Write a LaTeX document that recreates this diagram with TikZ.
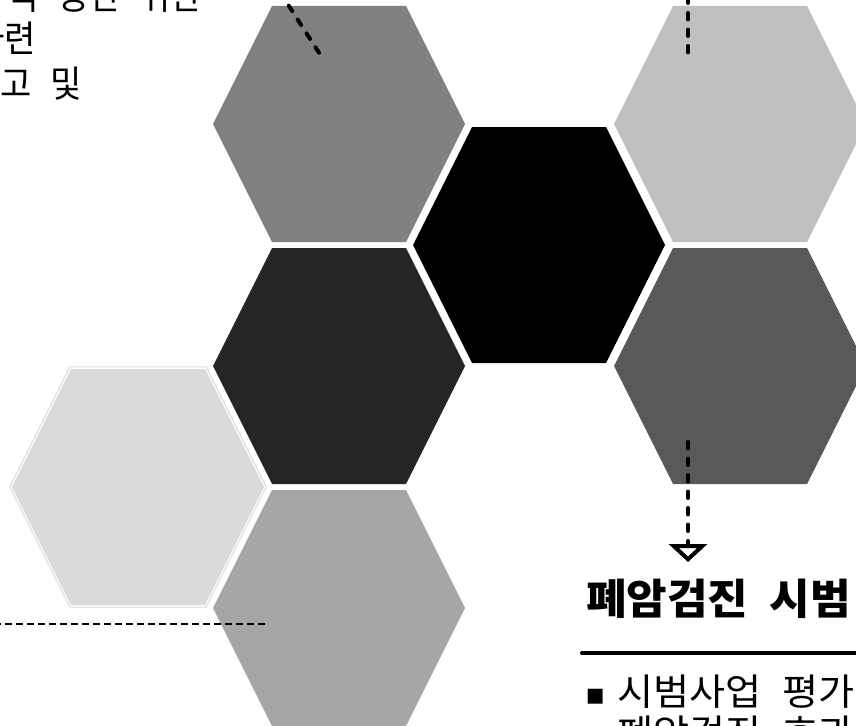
\documentclass[tikz,border=0pt]{standalone}
\usepackage{fontspec}
\newfontfamily\krtop[FakeStretch=0.92,WordSpace=2.4]{Noto Sans CJK KR}
\newfontfamily\krhead[FakeStretch=1.05,WordSpace=2.1]{Noto Sans CJK KR}
\newfontfamily\krbody[FakeStretch=1.06,WordSpace=2.4]{Noto Sans CJK KR}
\newfontfamily\dejavu{DejaVu Sans}
\usetikzlibrary{arrows.meta}
\definecolor{hexA}{HTML}{808080}
\definecolor{hexB}{HTML}{BFBFBF}
\definecolor{hexC}{HTML}{000000}
\definecolor{hexD}{HTML}{262626}
\definecolor{hexE}{HTML}{595959}
\definecolor{hexF}{HTML}{D9D9D9}
\definecolor{hexG}{HTML}{A6A6A6}
\newcommand\hexshape{(-126,0) -- (-67,-118) -- (67,-118) -- (126,0) -- (67,118) -- (-67,118) -- cycle}
\begin{document}
\begin{tikzpicture}[x=1pt,y=-1pt,
  dashline/.style={black, line width=4pt, line cap=round, dash pattern=on 6.5pt off 10pt},
  thindash/.style={black, line width=2.5pt, dash pattern=on 7pt off 4pt},
  toptext/.style={inner sep=0pt, font=\krtop\fontsize{37}{44}\selectfont},
  headtext/.style={inner sep=0pt, font=\krhead\bfseries\fontsize{42}{50}\selectfont},
  bodytext/.style={inner sep=0pt, font=\krbody\fontsize{37}{40}\selectfont}]
\useasboundingbox (0,0) rectangle (856,725);
\fill[white] (0,0) rectangle (856,725);
% hexagons
\fill[hexA, shift={(339,124)}] \hexshape;
\fill[hexB, shift={(740,124)}] \hexshape;
\fill[hexC, shift={(539,245)}] \hexshape;
\fill[hexD, shift={(339,366)}] \hexshape;
\fill[hexE, shift={(740,366)}] \hexshape;
\draw[hexF, line width=1pt, shift={(138,487)}, scale=1.018] \hexshape;
\fill[hexF, shift={(138,487)}] \hexshape;
\fill[hexG, shift={(339,608)}] \hexshape;
% coordinates for connectors
\coordinate (d1a) at (262,-36);
\coordinate (d1b) at (323,59);
\coordinate (d2a) at (688,-20);
\coordinate (d2b) at (688,58);
\coordinate (d3a) at (688,442);
\coordinate (d3b) at (688,562);
\coordinate (d4a) at (-6,624);
\coordinate (d4b) at (268,624);
% texts
\node[toptext, anchor=base east] (t1) at (202,9.5) {극 공단 위한};
\node[toptext, anchor=base east] (t2) at (36,52.5) {마련};
\node[toptext, anchor=base east] (t3) at (82,97.5) {보고 및};
\node[headtext, anchor=base west] (head) at (586,614) {폐암검진 시범};
\coordinate (rulea) at (582,653);
\coordinate (ruleb) at (900,653);
\node[inner sep=0pt, anchor=base west, font=\dejavu\fontsize{30}{30}\selectfont] (bul) at (585,704) {▪};
\node[bodytext, anchor=base west] (b1) at (617,705) {시범사업 평가};
\node[bodytext, anchor=base west] (b2) at (617,746) {폐암검진 효과};
% connectors
\draw[dashline] (d1a) -- (d1b);
\draw[dashline] (d2a) -- (d2b);
\draw[dashline, -{Triangle[open, width=38pt, length=18pt]}] (d3a) -- (d3b);
\draw[thindash] (d4a) -- (d4b);
\draw[black, line width=4pt, line cap=round] (rulea) -- (ruleb);
\end{tikzpicture}
\end{document}
